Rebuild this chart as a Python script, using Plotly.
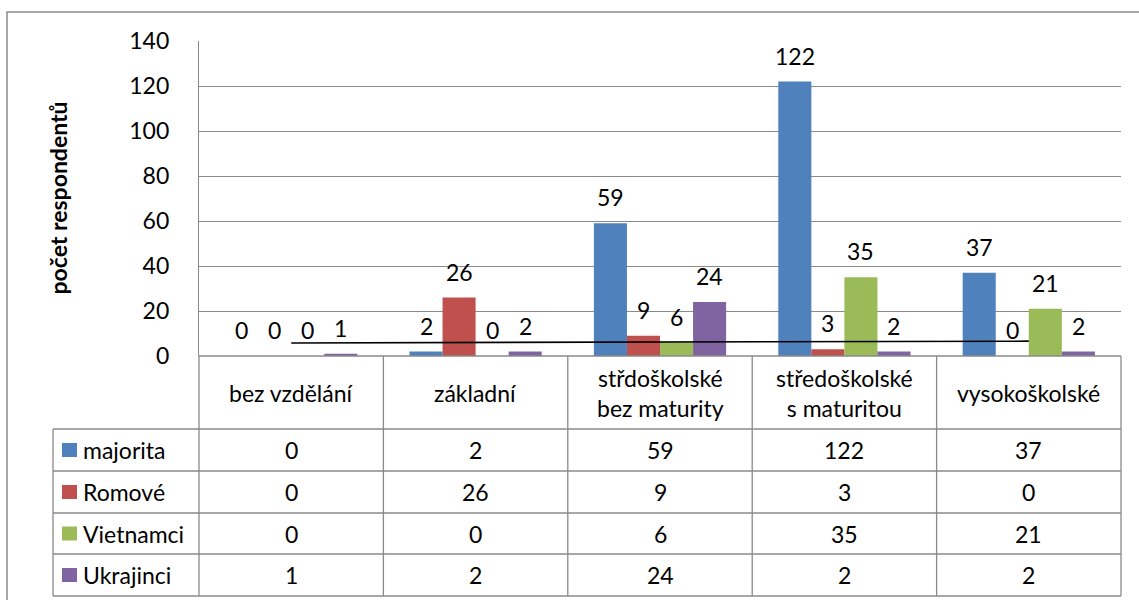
import numpy as np
import plotly.graph_objects as go

# ---------------- data ----------------
categories = ["bez vzdělání", "základní", "střdoškolské<br>bez maturity",
              "středoškolské<br>s maturitou", "vysokoškolské"]
series_names = ["majorita", "Romové", "Vietnamci", "Ukrajinci"]
majorita = [0, 2, 59, 122, 37]
romove = [0, 26, 9, 3, 0]
vietnamci = [0, 0, 6, 35, 21]
ukrajinci = [1, 2, 24, 2, 2]
y_ticks = [0, 20, 40, 60, 80, 100, 120, 140]
y_title = "počet respondentů"

series_values = [majorita, romove, vietnamci, ukrajinci]
colors = ["#4F81BD", "#C0504D", "#9BBB59", "#8064A2"]

# ---------------- layout geometry (pixels) ----------------
W, H = 1139, 600
PL, PR, PT, PB = 199, 1121, 41, 356      # plot area
TL = 53                                  # table left edge
ROWS = [429, 471, 513, 554, 596]         # table horizontal lines
FONT = "Lato, 'Noto Sans', sans-serif"
FS = 23
GRID = "#8A8A8A"
BORDER = "#8A8A8A"


def px(x):
    return x / W


def py(y):
    return 1 - y / H


ncat = len(categories)
cat_w = (PR - PL) / ncat
bargap = 0.283
bar_px = cat_w * (1 - bargap) / len(series_names)

fig = go.Figure()
for name, vals, col in zip(series_names, series_values, colors):
    fig.add_trace(go.Bar(x=categories, y=vals, name=name, marker_color=col,
                         marker_line_width=0, showlegend=False))

# linear trendline of Ukrajinci (Excel-like)
xi = np.arange(ncat)
slope, icpt = np.polyfit(xi, ukrajinci, 1)
fig.add_trace(go.Scatter(x=categories, y=slope * xi + icpt, mode="lines",
                         line=dict(color="black", width=1.6),
                         showlegend=False, hoverinfo="skip"))

annotations = []
shapes = []


def txt(x, y, text, xanchor="center", yanchor="middle", **kw):
    d = dict(x=x, y=y, text=text, showarrow=False, xanchor=xanchor, yanchor=yanchor,
             font=dict(family=FONT, size=FS, color="black"))
    d.update(kw)
    return d


# data labels above bars
for si, vals in enumerate(series_values):
    off = (si - (len(series_names) - 1) / 2) * bar_px
    for ci, v in enumerate(vals):
        annotations.append(txt(categories[ci], v, str(v), yanchor="bottom",
                               xref="x", yref="y", xshift=off, yshift=10))

# y-axis title
annotations.append(txt(px(57), py((PT + PB) / 2), "<b>" + y_title + "</b>",
                       xref="paper", yref="paper", textangle=-90,
                       font=dict(family=FONT, size=23, color="black")))

# ---- table ----
col_edges = [PL + i * cat_w for i in range(ncat + 1)]
line = dict(color=BORDER, width=1.3)
shapes.append(dict(type="line", xref="paper", yref="paper", x0=px(PL), x1=px(PR),
                   y0=py(PB), y1=py(PB), line=line))
for r in ROWS:
    shapes.append(dict(type="line", xref="paper", yref="paper", x0=px(TL), x1=px(PR),
                       y0=py(r), y1=py(r), line=line))
for e in col_edges:
    shapes.append(dict(type="line", xref="paper", yref="paper", x0=px(e), x1=px(e),
                       y0=py(PB), y1=py(ROWS[-1]), line=line))
shapes.append(dict(type="line", xref="paper", yref="paper", x0=px(TL), x1=px(TL),
                   y0=py(ROWS[0]), y1=py(ROWS[-1]), line=line))

# header texts
for ci, c in enumerate(categories):
    annotations.append(txt(px((col_edges[ci] + col_edges[ci + 1]) / 2),
                           py((PB + ROWS[0]) / 2), c, xref="paper", yref="paper"))

# rows
for si, (name, vals, col) in enumerate(zip(series_names, series_values, colors)):
    yc = (ROWS[si] + ROWS[si + 1]) / 2
    shapes.append(dict(type="rect", xref="paper", yref="paper",
                       x0=px(62), x1=px(77), y0=py(yc - 7), y1=py(yc + 7),
                       fillcolor=col, line=dict(width=0)))
    annotations.append(txt(px(81), py(yc), name, xanchor="left",
                           xref="paper", yref="paper"))
    for ci, v in enumerate(vals):
        annotations.append(txt(px((col_edges[ci] + col_edges[ci + 1]) / 2), py(yc),
                               str(v), xref="paper", yref="paper"))

# outer chart border
shapes.append(dict(type="rect", xref="paper", yref="paper",
                   x0=px(7), x1=px(W + 20), y0=py(12), y1=py(H + 20),
                   line=dict(color=BORDER, width=1.5)))

fig.update_layout(
    width=W, height=H,
    margin=dict(l=0, r=0, t=0, b=0),
    paper_bgcolor="white", plot_bgcolor="white",
    barmode="group", bargap=bargap, bargroupgap=0,
    font=dict(family=FONT, size=FS, color="black"),
    xaxis=dict(domain=[px(PL), px(PR)], type="category", range=[-0.5, ncat - 0.5],
               showticklabels=False, showgrid=False, showline=False, zeroline=False,
               ticks="", automargin=False, fixedrange=True),
    yaxis=dict(domain=[py(PB), py(PT)], range=[0, 140], tickvals=y_ticks,
               showgrid=True, gridcolor=GRID, gridwidth=1.3,
               showline=True, linecolor=BORDER, linewidth=1.3,
               zeroline=False, ticks="", ticklabelstandoff=24,
               tickfont=dict(family=FONT, size=FS, color="black"),
               automargin=False, fixedrange=True),
    annotations=annotations,
    shapes=shapes,
    showlegend=False,
)

fig.write_html("out.html", config={"displayModeBar": False},
               post_script="document.body.style.margin='0';document.body.style.overflow='hidden';")
